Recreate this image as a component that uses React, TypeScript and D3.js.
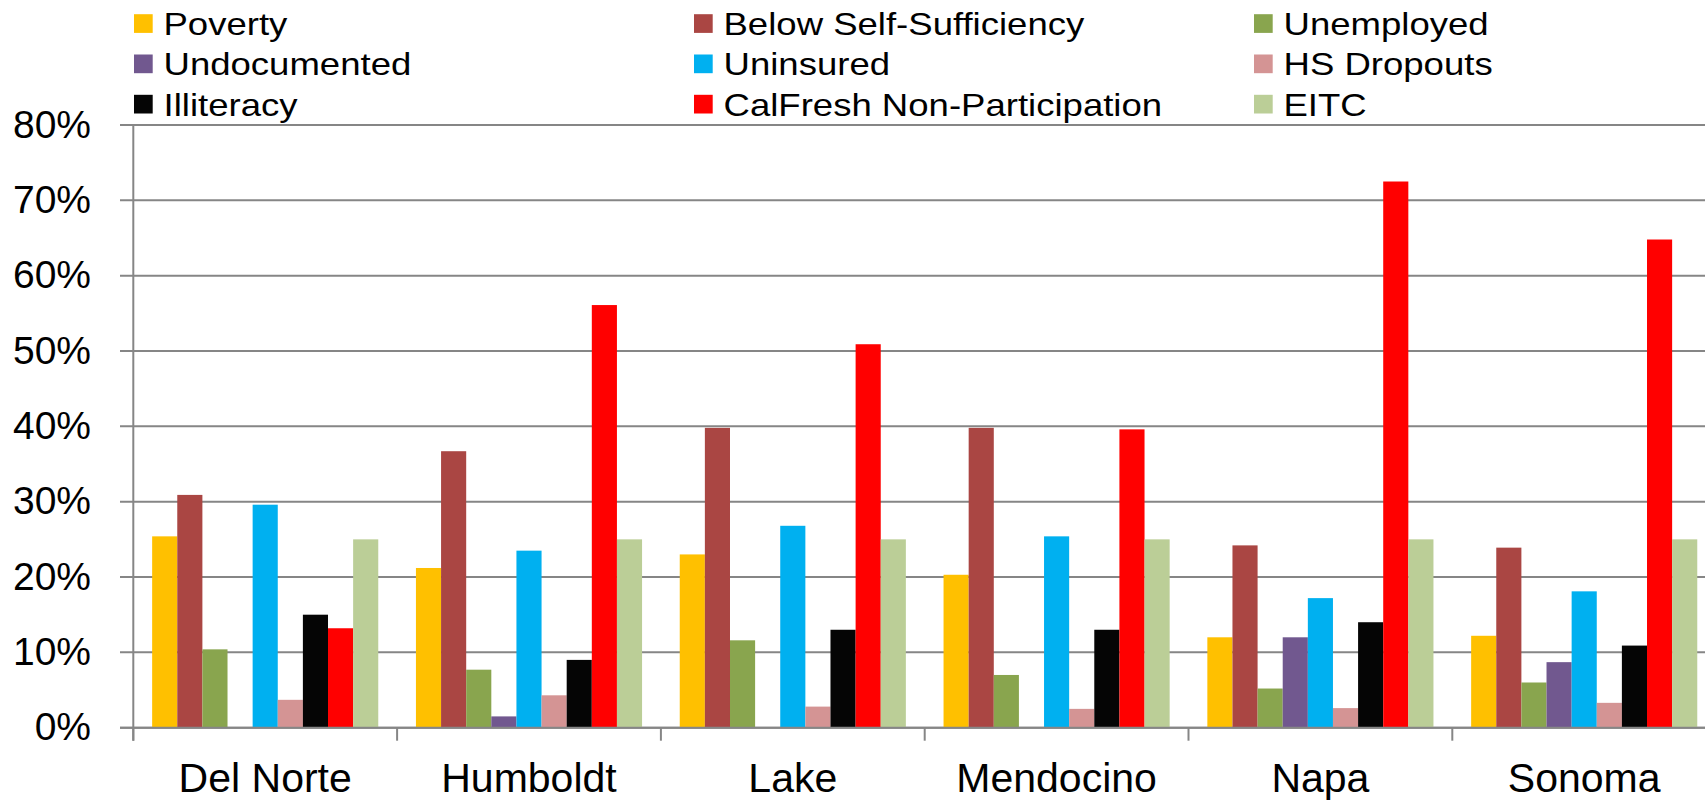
import React from "react";
import * as d3 from "d3";

const W = 1705;
const H = 800;
const FONT = "'Liberation Sans', Arial, sans-serif";

// categories
const counties = ["Del Norte", "Humboldt", "Lake", "Mendocino", "Napa", "Sonoma"];

// series values (percent), one entry per county
const poverty = [25.4, 21.2, 23.0, 20.3, 12.0, 12.2];
const belowSelfSufficiency = [30.9, 36.7, 39.8, 39.8, 24.2, 23.9];
const unemployed = [10.4, 7.7, 11.6, 7.0, 5.2, 6.0];
const undocumented = [0, 1.5, 0, 0, 12.0, 8.7];
const uninsured = [29.6, 23.5, 26.8, 25.4, 17.2, 18.1];
const hsDropouts = [3.7, 4.3, 2.8, 2.5, 2.6, 3.3];
const illiteracy = [15.0, 9.0, 13.0, 13.0, 14.0, 10.9];
const calFreshNonParticipation = [13.2, 56.1, 50.9, 39.6, 72.5, 64.8];
const eitc = [25.0, 25.0, 25.0, 25.0, 25.0, 25.0];

const seriesNames = [
  "Poverty",
  "Below Self-Sufficiency",
  "Unemployed",
  "Undocumented",
  "Uninsured",
  "HS Dropouts",
  "Illiteracy",
  "CalFresh Non-Participation",
  "EITC",
];
const seriesValues = [
  poverty,
  belowSelfSufficiency,
  unemployed,
  undocumented,
  uninsured,
  hsDropouts,
  illiteracy,
  calFreshNonParticipation,
  eitc,
];
const seriesColors = [
  "#FFC000",
  "#AA4643",
  "#89A54E",
  "#71588F",
  "#00B0F0",
  "#D49494",
  "#050505",
  "#FF0000",
  "#BBCE97",
];

// y tick values (fractions)
const yTicks = [0, 0.1, 0.2, 0.3, 0.4, 0.5, 0.6, 0.7, 0.8];

// layout
const X0 = 133.3;
const GROUP_STEP = 263.8;
const Y_BASE = 727.7;
const Y_TOP = 125;
const GRID = "#868686";

export default function App() {
  const xGroup = d3
    .scaleBand<string>()
    .domain(counties)
    .range([X0, X0 + GROUP_STEP * counties.length])
    .padding(0);

  const xSeries = d3
    .scaleBand<string>()
    .domain(seriesNames)
    .range([0, xGroup.bandwidth()])
    .paddingInner(0)
    .paddingOuter(0.75);

  const y = d3.scaleLinear().domain([0, 0.8]).range([Y_BASE, Y_TOP]);

  const fmt = d3.format(".0%");

  const groupEdges = d3.range(counties.length + 1).map((i) => X0 + i * GROUP_STEP);

  return (
    <svg
      width={W}
      height={H}
      style={{ position: "absolute", left: 0, top: 0, background: "#fff" }}
      fontFamily={FONT}
    >
      <rect x={0} y={0} width={W} height={H} fill="#fff" />

      {/* gridlines + y labels */}
      {yTicks.map((t) => (
        <g key={t}>
          <line x1={120} x2={W + 20} y1={y(t)} y2={y(t)} stroke={GRID} strokeWidth={2} />
          <text x={91} y={y(t) + 12.5} textAnchor="end" fontSize={39} fill="#000">
            {fmt(t)}
          </text>
        </g>
      ))}

      {/* bars */}
      {counties.map((c, ci) => (
        <g key={c} transform={`translate(${xGroup(c)},0)`}>
          {seriesNames.map((s, si) => {
            const v = seriesValues[si][ci] / 100;
            if (v <= 0) return null;
            return (
              <rect
                key={s}
                x={xSeries(s)}
                y={y(v)}
                width={xSeries.bandwidth()}
                height={Y_BASE - y(v)}
                fill={seriesColors[si]}
              />
            );
          })}
        </g>
      ))}

      {/* axes */}
      <line x1={X0} x2={X0} y1={Y_TOP} y2={Y_BASE + 13} stroke={GRID} strokeWidth={2} />
      <line x1={120} x2={W + 20} y1={Y_BASE} y2={Y_BASE} stroke={GRID} strokeWidth={2} />
      {groupEdges.map((gx, i) => (
        <line key={i} x1={gx} x2={gx} y1={Y_BASE} y2={Y_BASE + 13} stroke={GRID} strokeWidth={2} />
      ))}

      {/* category labels */}
      {counties.map((c) => (
        <text
          key={c}
          x={(xGroup(c) ?? 0) + xGroup.bandwidth() / 2}
          y={792}
          textAnchor="middle"
          fontSize={41}
          fill="#000"
        >
          {c}
        </text>
      ))}

      {/* legend */}
      {seriesNames.map((s, i) => {
        const col = i % 3;
        const row = Math.floor(i / 3);
        const lx = 134 + col * 560;
        const cy = 23.5 + row * 40.3;
        return (
          <g key={s}>
            <rect x={lx} y={cy - 9.3} width={18.7} height={18.7} fill={seriesColors[i]} />
            <g transform={`translate(${lx + 29.5},${cy + 11.5}) scale(1.16,1)`}>
              <text x={0} y={0} fontSize={31.5} fill="#000">
                {s}
              </text>
            </g>
          </g>
        );
      })}
    </svg>
  );
}
